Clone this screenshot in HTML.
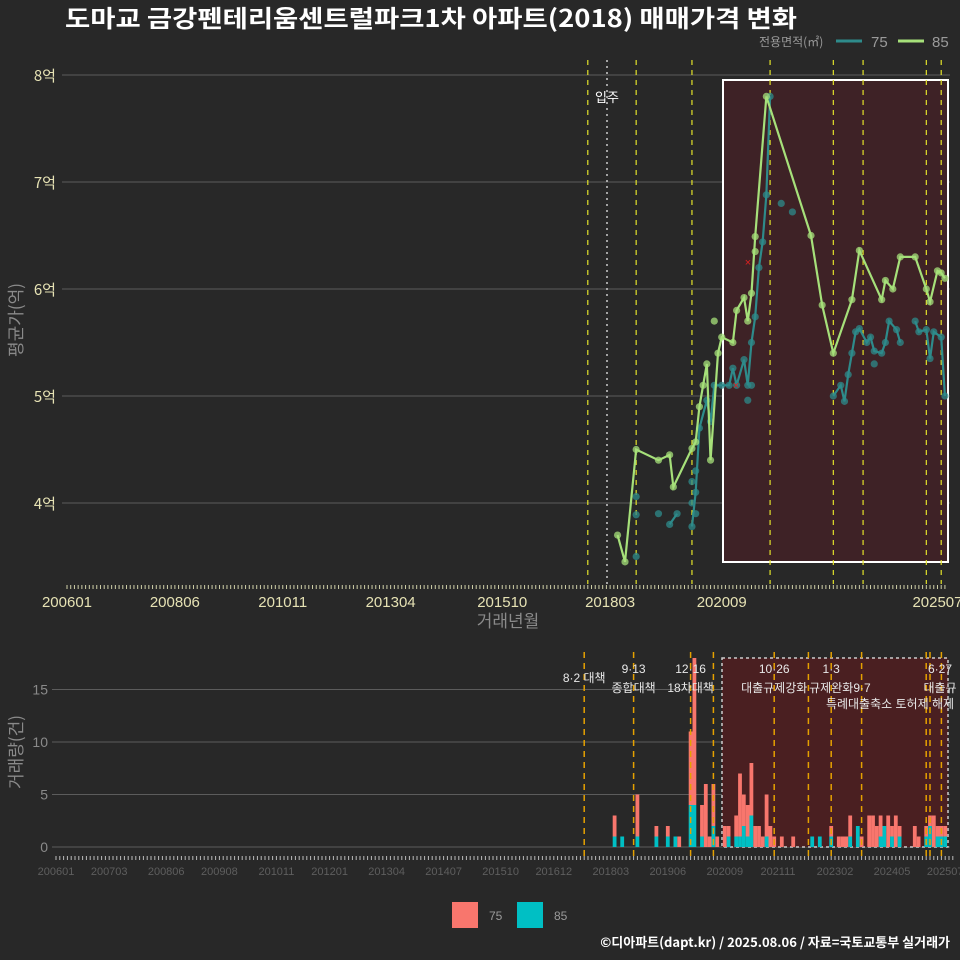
<!DOCTYPE html>
<html><head><meta charset="utf-8"><style>
body{margin:0;background:#282828;}
svg{display:block;font-family:"Liberation Sans","Noto Sans CJK KR",sans-serif;}
</style></head><body>
<svg id="c" width="960" height="960" viewBox="0 0 960 960">
<rect width="960" height="960" fill="#282828"/>
<text x="65" y="27" fill="#ffffff" font-size="24" font-weight="bold" font-family="Noto Sans CJK KR, sans-serif" textLength="732" lengthAdjust="spacingAndGlyphs">도마교 금강펜테리움센트럴파크1차 아파트(2018) 매매가격 변화</text>
<g>
<text x="759" y="46" fill="#9a9a9a" font-size="12" font-family="Noto Sans CJK KR, sans-serif">전용면적(㎡)</text>
<line x1="836" y1="41" x2="862" y2="41" stroke="#2e8b8b" stroke-width="3"/>
<text x="871" y="47" fill="#9a9a9a" font-size="15">75</text>
<line x1="898" y1="41" x2="924" y2="41" stroke="#a6e07a" stroke-width="3"/>
<text x="932" y="47" fill="#9a9a9a" font-size="15">85</text>
</g>
<g id="topPanel"></g>
<g id="botPanel"></g>
<g>
<rect x="452" y="902" width="26" height="26" fill="#f8766d"/>
<text x="489" y="920" fill="#9a9a9a" font-size="12">75</text>
<rect x="517" y="902" width="26" height="26" fill="#00bfc4"/>
<text x="554" y="920" fill="#9a9a9a" font-size="12">85</text>
</g>
<text x="950" y="947" text-anchor="end" fill="#ffffff" font-size="13" font-weight="bold" font-family="Noto Sans CJK KR, sans-serif">©디아파트(dapt.kr) / 2025.08.06 / 자료=국토교통부 실거래가</text>
</svg>
<script>
// ---- price data ----
const months85 = ["201805","201807","201810","201904","201907","201908","202001","202002","202003","202004","202005","202006","202008","202009","202012","202101","202103","202104","202105","202106","202109","202209","202212","202303","202308","202310","202404","202405","202407","202409","202501","202504","202505","202507","202508","202509"];
const price85 = [3.70,3.45,4.50,4.40,4.45,4.15,4.51,4.57,4.9,5.1,5.3,4.4,5.4,5.55,5.5,5.8,5.92,5.7,5.96,6.49,7.8,6.5,5.85,5.4,5.9,6.36,5.9,6.08,6.0,6.3,6.3,6.0,5.88,6.17,6.15,6.1];
const months75 = ["201810","201904","201907","201909","202001","202002","202003","202005","202006","202007","202009","202011","202012","202101","202103","202104","202105","202106","202107","202108","202109","202110","202303","202305","202306","202307","202308","202309","202310","202312","202401","202402","202404","202405","202406","202408","202409","202501","202502","202504","202505","202506","202508","202509"];
const price75 = [3.5,3.9,3.8,3.9,3.78,4.1,4.7,4.96,4.76,5.1,5.1,5.1,5.26,5.1,5.34,5.1,5.5,5.74,6.2,6.44,6.88,7.8,5.0,5.1,4.95,5.2,5.4,5.6,5.63,5.5,5.55,5.42,5.4,5.5,5.7,5.62,5.5,5.7,5.6,5.62,5.35,5.6,5.55,5.0];
const extraMonths75 = ["201810","201810","202001","202001","202002","202002","202104","202105","202201","202204","202402"];
const extraPrice75 = [3.89,4.06,4.2,4.0,3.9,4.3,4.96,5.1,6.8,6.72,5.3];
const extraMonths85 = ["202007","202106"];
const extraPrice85 = [5.7,6.35];
const yTicks = [4,5,6,7,8];
const topXLabels = ["200601","200806","201011","201304","201510","201803","202009","202507"];
const policyTop = ["201709","201810","202001","202110","202303","202311","202504","202508"];
// ---- volume data ----
const volMonths = ["201804","201806","201810","201903","201906","201908","201909","201912","202001","202003","202004","202005","202006","202007","202009","202010","202012","202101","202102","202103","202104","202105","202106","202107","202108","202109","202110","202112","202203","202208","202210","202301","202303","202304","202305","202306","202308","202309","202311","202312","202401","202402","202403","202404","202405","202406","202407","202411","202412","202502","202503","202504","202505","202506","202507"];
const vol75 = [2,0,4,1,1,0,1,7,14,3,6,1,4,1,2,1,2,6,3,3,5,2,2,1,4,2,1,1,1,0,0,1,1,1,1,2,0,1,3,3,2,2,0,3,1,3,1,2,1,1,1,3,1,1,1];
const vol85 = [1,1,1,1,1,1,0,4,4,1,0,0,2,0,0,1,1,1,2,1,3,0,0,0,1,0,0,0,0,1,1,1,0,0,0,1,2,0,0,0,0,1,2,0,1,0,1,0,0,1,2,0,1,1,1];
const volTicks = [0,5,10,15];
const botXLabels = ["200601","200703","200806","200908","201011","201201","201304","201407","201510","201612","201803","201906","202009","202111","202302","202405","202507"];
const policyBot = ["201708","201809","201912","202006","202110","202207","202301","202309","202502","202503","202506"];
const policyNotes = [["201708","8·2 대책",""],["201809","9·13","종합대책"],["201912","12·16","18차대책"],["202110","10·26","대출규제강화"],["202301","1·3","규제완화"]];

const NS="http://www.w3.org/2000/svg";
const NOTEFONT='Liberation Sans, Noto Sans CJK KR, sans-serif';
function mk(p,t,a){const e=document.createElementNS(NS,t);for(const k in a)e.setAttribute(k,a[k]);p.appendChild(e);return e;}
function mi(s){return (parseInt(s.slice(0,4))-2006)*12+parseInt(s.slice(4,6))-1;}
const tx=m=>67+3.72*m, ty=v=>75+(8-v)*107;
const bx=m=>56+3.8*m, by=v=>847-v*10.5;
const topG=document.getElementById('topPanel'), botG=document.getElementById('botPanel');

yTicks.forEach(v=>{
 const l=mk(topG,'line',{x1:62,x2:950,y1:ty(v),y2:ty(v),stroke:'#5c5c5c','stroke-width':1});
 
 
 const t=mk(topG,'text',{x:56,y:ty(v)+6,'text-anchor':'end',fill:'#e6e2b4','font-size':15,'font-family':'Noto Sans CJK KR, sans-serif'});t.textContent=v+'억';
 
 
});
const sr=mk(topG,'rect',{x:723,y:80,width:225,height:482,fill:'#3e2226',stroke:'#ffffff','stroke-width':2});


policyTop.forEach(s=>{
 const l=mk(topG,'line',{x1:tx(mi(s)),x2:tx(mi(s)),y1:60,y2:584,stroke:'#e3e32a','stroke-width':1.2,'stroke-dasharray':'5,5'});
 
 
});
const mv=mk(topG,'line',{x1:607,x2:607,y1:60,y2:584,stroke:'#cccccc','stroke-width':1.5,'stroke-dasharray':'2,4'});


const mt=mk(topG,'text',{x:607,y:102,'text-anchor':'middle',fill:'#ffffff','font-size':13,'font-family':'Noto Sans CJK KR, sans-serif'});mt.textContent='입주';


for(let m=0;m<=236;m++){const l=mk(topG,'line',{x1:tx(m),x2:tx(m),y1:585,y2:589,stroke:'#cfcfa8','stroke-width':1});
 
 }
topXLabels.forEach(s=>{const t=mk(topG,'text',{x:tx(mi(s)),y:607,'text-anchor':'middle',fill:'#e6e2b4','font-size':15});t.textContent=s;
 
 });
const xt=mk(topG,'text',{x:508,y:627,'text-anchor':'middle',fill:'#8a8a8a','font-size':17,'font-family':'Noto Sans CJK KR, sans-serif'});xt.textContent='거래년월';


const yt=mk(topG,'text',{x:0,y:0,transform:'translate(22,320) rotate(-90)','text-anchor':'middle',fill:'#8a8a8a','font-size':17,'font-family':'Noto Sans CJK KR, sans-serif'});yt.textContent='평균가(억)';


let seg=[];const segs=[];
months75.forEach((s,i)=>{const m=mi(s);if(seg.length&&m-seg[seg.length-1][0]>2){segs.push(seg);seg=[];}seg.push([m,price75[i]]);});
segs.push(seg);
segs.forEach(sg=>{if(sg.length<2)return;const p=mk(topG,'polyline',{points:sg.map(d=>tx(d[0])+','+ty(d[1])).join(' '),fill:'none',stroke:'#2e8b8b','stroke-width':2.2});
 
 });
function dots(ms,vs,col,name){ms.forEach((s,i)=>{const c=mk(topG,'circle',{cx:tx(mi(s)),cy:ty(vs[i]),r:3.6,fill:col,'fill-opacity':0.75});
 
 });}
dots(months75,price75,'#2e8b8b','point-75');
dots(extraMonths75,extraPrice75,'#2e8b8b','point-75');
const p85=mk(topG,'polyline',{points:months85.map((s,i)=>tx(mi(s))+','+ty(price85[i])).join(' '),fill:'none',stroke:'#a6e07a','stroke-width':2.2});


dots(months85,price85,'#a6e07a','point-85');
dots(extraMonths85,extraPrice85,'#a6e07a','point-85');
[[748,262],[736,385]].forEach(q=>{const t=mk(topG,'text',{x:q[0],y:q[1]+4,'text-anchor':'middle',fill:'#e02020','font-size':11});t.textContent='×';
 
 });

volTicks.forEach(v=>{
 const l=mk(botG,'line',{x1:52,x2:950,y1:by(v),y2:by(v),stroke:'#5c5c5c','stroke-width':1});
 
 
 const t=mk(botG,'text',{x:48,y:by(v)+5,'text-anchor':'end',fill:'#8a8a8a','font-size':14});t.textContent=v;
 
 
});
const br=mk(botG,'rect',{x:722,y:658,width:226,height:189,fill:'#4a1f21','stroke':'#cccccc','stroke-width':1.5,'stroke-dasharray':'3,3'});


volMonths.forEach((s,i)=>{const x=bx(mi(s))-1.9;
 const a=mk(botG,'rect',{x:x,y:by(vol85[i]),width:3.8,height:vol85[i]*10.5,fill:'#00bfc4'});
 
 
 const b=mk(botG,'rect',{x:x,y:by(vol85[i]+vol75[i]),width:3.8,height:vol75[i]*10.5,fill:'#f8766d'});
 
 });
policyBot.forEach(s=>{const l=mk(botG,'line',{x1:bx(mi(s)),x2:bx(mi(s)),y1:652,y2:856,stroke:'#e5a100','stroke-width':1.5,'stroke-dasharray':'6,5'});
 
 });
policyNotes.forEach(n=>{const x=bx(mi(n[0]));
 const t=mk(botG,'text',{x:x,y:n[2]?673:682,'text-anchor':'middle',fill:'#e8e8e8','font-size':12,'font-family':NOTEFONT});t.textContent=n[1];
 
 
 if(n[2]){const u=mk(botG,'text',{x:x,y:692,'text-anchor':'middle',fill:'#e8e8e8','font-size':12,'font-family':NOTEFONT});u.textContent=n[2];
 
 }});
[["9·7",862,692],["특례대출축소 토허제 해제",890,708],["6·27",940,673],["대출규",940,692]].forEach(n=>{const t=mk(botG,'text',{x:n[1],y:n[2],'text-anchor':'middle',fill:'#e8e8e8','font-size':12,'font-family':NOTEFONT});t.textContent=n[0];
 
 });
for(let m=0;m<=236;m++){const l=mk(botG,'line',{x1:bx(m),x2:bx(m),y1:856,y2:860,stroke:'#bbbbbb','stroke-width':1});
 
 }
botXLabels.forEach(s=>{const t=mk(botG,'text',{x:bx(mi(s)),y:875,'text-anchor':'middle',fill:'#5e5e5e','font-size':11});t.textContent=s;
 
 });
const vt=mk(botG,'text',{x:0,y:0,transform:'translate(22,752) rotate(-90)','text-anchor':'middle',fill:'#8a8a8a','font-size':17,'font-family':'Noto Sans CJK KR, sans-serif'});vt.textContent='거래량(건)';


</script>
</body></html>
